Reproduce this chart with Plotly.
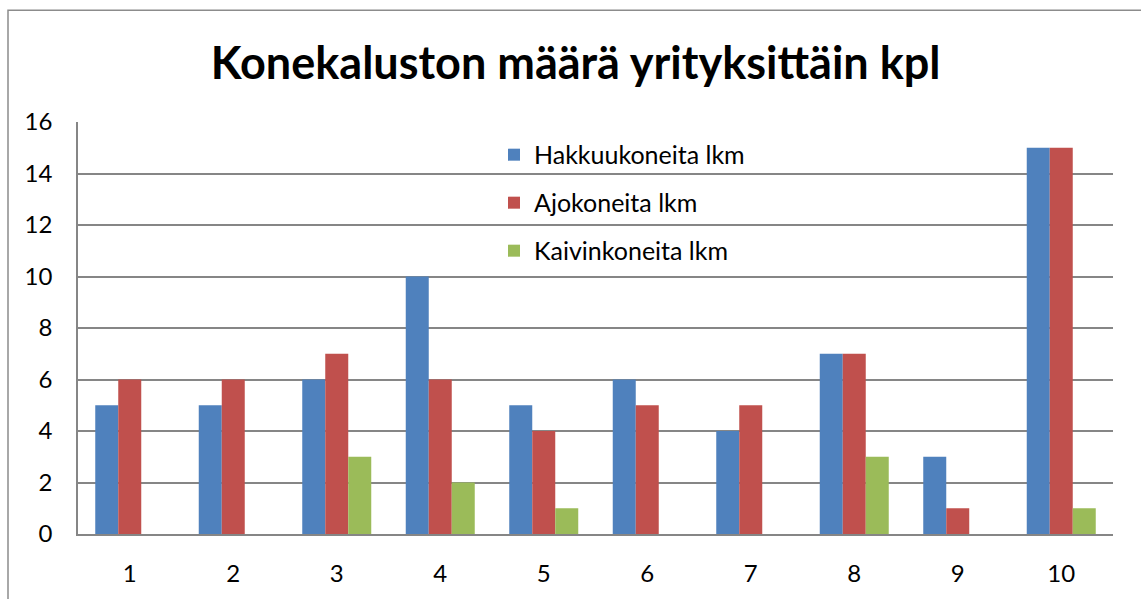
import plotly.graph_objects as go

categories = ["1", "2", "3", "4", "5", "6", "7", "8", "9", "10"]
hakkuu = [5, 5, 6, 10, 5, 6, 4, 7, 3, 15]
ajo = [6, 6, 7, 6, 4, 5, 5, 7, 1, 15]
kaivin = [0, 0, 3, 2, 1, 0, 0, 3, 0, 1]
series_names = ["Hakkuukoneita lkm", "Ajokoneita lkm", "Kaivinkoneita lkm"]
colors = ["#4F81BD", "#C0504D", "#9BBB59"]
y_ticks = [0, 2, 4, 6, 8, 10, 12, 14, 16]

FONT = "Lato"

fig = go.Figure()
for name, vals, col in zip(series_names, [hakkuu, ajo, kaivin], colors):
    fig.add_trace(go.Bar(x=categories, y=vals, name=name, marker_color=col,
                         marker_line_width=0, legendgroup=name))

L, R, T, B = 78, 28, 122, 62
W, H = 1141, 599
pw, ph = W - L - R, H - T - B

fig.update_layout(
    width=W, height=H,
    margin=dict(l=L, r=R, t=T, b=B),
    paper_bgcolor="white", plot_bgcolor="white",
    barmode="group", bargap=1/3, bargroupgap=0,
    title=dict(text="<b>Konekaluston määrä yrityksittäin kpl</b>",
               x=0.5045, xanchor="center", y=1 - 63/H, yanchor="middle",
               font=dict(family=FONT, size=45, color="black")),
    font=dict(family=FONT, size=24, color="black"),
    legend=dict(x=(494 - L) / pw, y=1 - (132 - T) / ph, xanchor="left", yanchor="top",
                bgcolor="rgba(0,0,0,0)", font=dict(size=25, family=FONT),
                traceorder="grouped", tracegroupgap=12.5, itemwidth=30),
    showlegend=True,
    xaxis=dict(showgrid=False, showline=True, linecolor="#868686", linewidth=1.5,
               ticks="outside", ticklen=17, tickcolor="rgba(0,0,0,0)",
               tickfont=dict(size=24, family=FONT)),
    yaxis=dict(range=[0, 16], tickvals=y_ticks, showgrid=True, gridcolor="#868686",
               gridwidth=1.5, showline=True, linecolor="#868686", linewidth=1.5,
               zeroline=False, ticks="outside", ticklen=19, tickcolor="rgba(0,0,0,0)",
               tickfont=dict(size=24, family=FONT)),
    shapes=[dict(type="rect", xref="paper", yref="paper",
                 x0=(8 - L) / pw, x1=(1160 - L) / pw,
                 y0=-0.3, y1=1 + (T - 9.5) / ph,
                 line=dict(color="#8C8C8C", width=1.5), fillcolor="rgba(0,0,0,0)",
                 layer="below")],
)

fig.write_html("out.html", config={"displayModeBar": False},
               post_script="document.body.style.margin='0';document.body.style.overflow='hidden';")
